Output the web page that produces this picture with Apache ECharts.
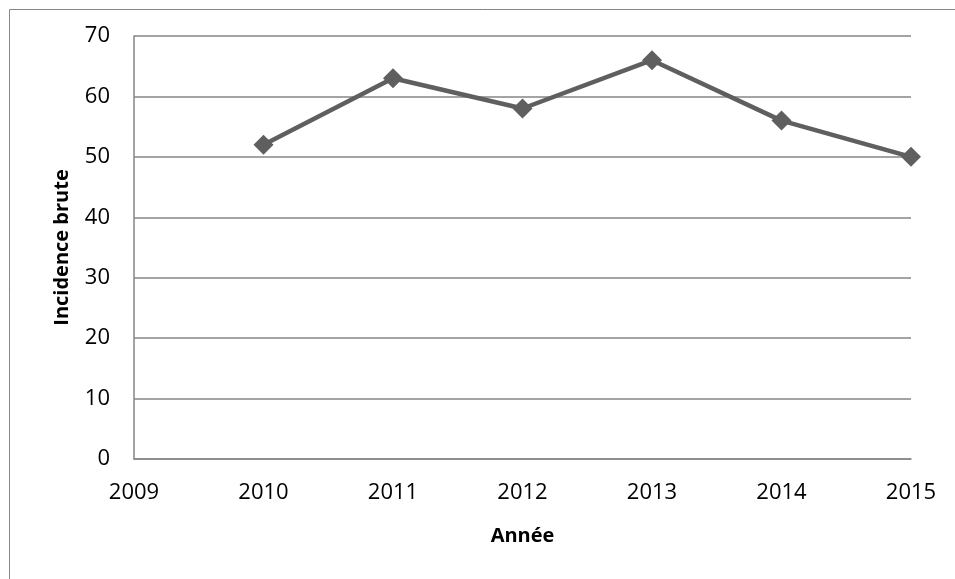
<!DOCTYPE html>
<html><head><meta charset="utf-8">
<script src="https://cdn.jsdelivr.net/npm/echarts@6/dist/echarts.min.js"></script>
<style>html,body{margin:0;padding:0;background:#fff}#c{width:955px;height:579px}</style>
</head><body><div id="c"></div>
<script>
const years = [2010, 2011, 2012, 2013, 2014, 2015];
const incidence = [52, 63, 58, 66, 56, 50];
const xTitle = 'Année';
const yTitle = 'Incidence brute';

const chart = echarts.init(document.getElementById('c'), null, {renderer: 'canvas'});
const font = '"Open Sans", "Liberation Sans", sans-serif';
chart.setOption({
  animation: false,
  backgroundColor: '#fff',
  graphic: [{
    type: 'rect', left: 7, top: 7, silent: true,
    shape: {width: 1000, height: 1000},
    style: {fill: 'none', stroke: '#868686', lineWidth: 1}
  }],
  grid: {left: 134, right: 44, top: 36, bottom: 120},
  xAxis: {
    type: 'value', min: 2009, max: 2015, interval: 1,
    name: xTitle, nameLocation: 'middle', nameGap: 67,
    nameTextStyle: {fontFamily: font, fontSize: 20, fontWeight: 'bold', color: '#000'},
    axisLine: {show: true, lineStyle: {color: '#868686', width: 1.5}},
    axisTick: {show: false},
    splitLine: {show: false},
    axisLabel: {fontFamily: font, fontSize: 22, color: '#000', margin: 23, formatter: v => String(v)}
  },
  yAxis: {
    type: 'value', min: 0, max: 70, interval: 10,
    name: yTitle, nameLocation: 'middle', nameGap: 62, nameRotate: 90,
    nameTextStyle: {fontFamily: font, fontSize: 20, fontWeight: 'bold', color: '#000'},
    axisLine: {show: true, lineStyle: {color: '#868686', width: 1.5}},
    axisTick: {show: false},
    splitLine: {show: true, lineStyle: {color: '#868686', width: 1.5}},
    axisLabel: {fontFamily: font, fontSize: 22, color: '#000', margin: 24}
  },
  series: [{
    type: 'line',
    data: years.map((y, i) => [y, incidence[i]]),
    symbol: 'diamond', symbolSize: 20,
    itemStyle: {color: '#5f5f5f'},
    lineStyle: {color: '#5f5f5f', width: 4.5}
  }]
});
</script></body></html>
